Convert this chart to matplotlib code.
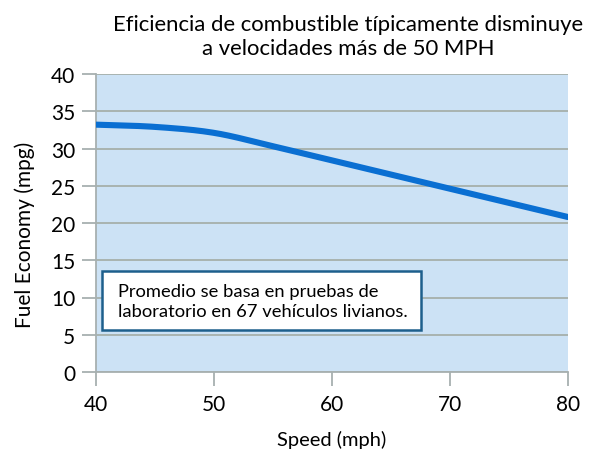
import matplotlib
matplotlib.use("Agg")
import matplotlib.pyplot as plt
from matplotlib.patches import Rectangle
import numpy as np

speed = [40, 45, 50, 55, 60, 65, 70, 75, 80]
mpg = [33.2, 32.9, 32.1, 30.3, 28.4, 26.5, 24.6, 22.7, 20.8]
x_ticks = [40, 50, 60, 70, 80]
y_ticks = [0, 5, 10, 15, 20, 25, 30, 35, 40]
title = "Eficiencia de combustible típicamente disminuye\na velocidades más de 50 MPH"
note = "Promedio se basa en pruebas de\nlaboratorio en 67 vehículos livianos."

plt.rcParams['font.family'] = ['Lato', 'DejaVu Sans']

fig = plt.figure(figsize=(5.94, 4.52), dpi=100)
ax = fig.add_axes([96/594, 1 - 373/452, (568-96)/594, (373-75)/452])
ax.set_facecolor('#cce2f5')


def smooth(x, y, xs):
    x = np.asarray(x, float); y = np.asarray(y, float)
    n = len(x)
    m = np.zeros(n)
    m[1:-1] = (y[2:] - y[:-2]) / (x[2:] - x[:-2])
    m[0] = (y[1] - y[0]) / (x[1] - x[0])
    m[-1] = (y[-1] - y[-2]) / (x[-1] - x[-2])
    out = np.empty_like(xs)
    for i, xv in enumerate(xs):
        k = min(np.searchsorted(x, xv, side='right') - 1, n - 2)
        h = x[k+1] - x[k]
        t = (xv - x[k]) / h
        h00 = 2*t**3 - 3*t**2 + 1
        h10 = t**3 - 2*t**2 + t
        h01 = -2*t**3 + 3*t**2
        h11 = t**3 - t**2
        out[i] = h00*y[k] + h10*h*m[k] + h01*y[k+1] + h11*h*m[k+1]
    return out


xs = np.linspace(speed[0], speed[-1], 300)
ax.plot(xs, smooth(speed, mpg, xs), color='#0a6fd2', lw=4.4,
        solid_capstyle='round', zorder=3)

ax.set_xlim(40, 80)
ax.set_ylim(0, 40)
ax.set_xticks(x_ticks)
ax.set_yticks(y_ticks)
ax.tick_params(axis='both', labelsize=15, color='#a7b0b0', width=1.3,
               length=10, direction='out')
ax.tick_params(axis='x', pad=6)
ax.tick_params(axis='y', pad=5)
ax.grid(axis='y', color='#a9b3b0', lw=1.4, zorder=1)
ax.set_axisbelow(True)
for s in ['top', 'right']:
    ax.spines[s].set_visible(False)
for s in ['left', 'bottom']:
    ax.spines[s].set_color('#a7b0b0')
    ax.spines[s].set_linewidth(1.3)

fig.text(332/594, 1 - 440/452, 'Speed (mph)', ha='center', va='center',
         fontsize=14.5)
fig.text(25/594, 1 - 235/452, 'Fuel Economy (mpg)', ha='center', va='center',
         fontsize=15, rotation=90)

fig.text(348/594, 1 - 37/452, title, ha='center', va='center',
         fontsize=15.9, linespacing=1.2)

box = Rectangle(((102-96)/472, (373-331)/298), (421-102)/472, (331-272)/298,
                transform=ax.transAxes, facecolor='white', edgecolor='#1d5f8c',
                lw=1.8, zorder=4)
ax.add_patch(box)
ax.text((118-96)/472, (373-302)/298, note, transform=ax.transAxes,
        ha='left', va='center', fontsize=13.2, linespacing=1.35, zorder=5)

fig.savefig('out.png', dpi=100)
